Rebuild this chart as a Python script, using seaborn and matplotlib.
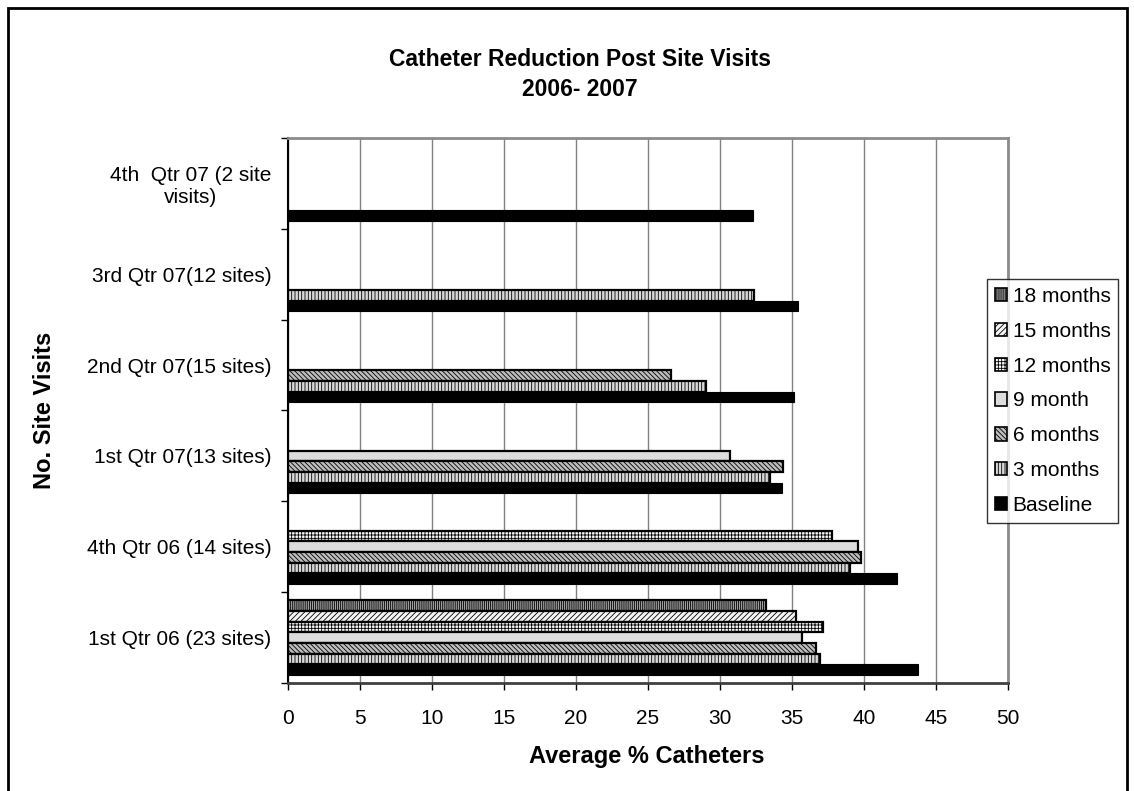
import numpy as np
import pandas as pd
import matplotlib
matplotlib.use("Agg")
import matplotlib.pyplot as plt
from matplotlib.patches import Patch, Rectangle
import seaborn as sns

# Site-visit cohorts, listed top to bottom as drawn
categories = [
    "4th  Qtr 07 (2 site\nvisits)",
    "3rd Qtr 07(12 sites)",
    "2nd Qtr 07(15 sites)",
    "1st Qtr 07(13 sites)",
    "4th Qtr 06 (14 sites)",
    "1st Qtr 06 (23 sites)",
]

# Series in legend order (top bar of each group first)
series = ["18 months", "15 months", "12 months", "9 month", "6 months", "3 months", "Baseline"]

# Average % catheters per cohort (None = not yet measured)
m18 = [None, None, None, None, None, 33.2]
m15 = [None, None, None, None, None, 35.25]
m12 = [None, None, None, None, 37.8, 37.15]
m9 = [None, None, None, 30.7, 39.6, 35.7]
m6 = [None, None, 26.6, 34.4, 39.8, 36.65]
m3 = [None, 32.35, 29.0, 33.5, 39.05, 36.95]
baseline = [32.3, 35.4, 35.15, 34.3, 42.3, 43.75]

values = [m18, m15, m12, m9, m6, m3, baseline]

rows = []
for name, vals in zip(series, values):
    for cat, v in zip(categories, vals):
        if v is not None:
            rows.append({"cohort": cat, "series": name, "pct": v})
df = pd.DataFrame(rows)

# Fill colour and hatch per series (grayscale print style)
styles = {
    "18 months": ("#a0a0a0", "||||||||"),
    "15 months": ("#f4f4f4", "//////"),
    "12 months": ("#fafafa", "+++++"),
    "9 month": ("#dcdcdc", ""),
    "6 months": ("#bdbdbd", "\\\\\\\\\\\\\\"),
    "3 months": ("#d8d8d8", "|||||"),
    "Baseline": ("#000000", ""),
}
# Slightly distinct keys so each container can be identified by colour
palette = {}
for i, s in enumerate(series):
    base = matplotlib.colors.to_rgb(styles[s][0])
    palette[s] = tuple(min(1.0, max(0.0, c + 0.0001 * i)) for c in base)

sns.set_theme(style="white")
plt.rcParams["font.family"] = ["Liberation Sans", "DejaVu Sans"]
plt.rcParams["hatch.linewidth"] = 0.6
for key in ("text.color", "axes.labelcolor", "xtick.color", "ytick.color"):
    plt.rcParams[key] = "black"

fig = plt.figure(figsize=(11.34, 7.91), dpi=100)
fig.patch.set_facecolor("white")
ax = fig.add_axes([288 / 1134, 1 - 683 / 791, 720 / 1134, (683 - 138) / 791])

sns.barplot(
    data=df, y="cohort", x="pct", hue="series",
    order=categories, hue_order=series, palette=palette,
    orient="h", width=0.82, errorbar=None, legend=False, ax=ax,
    saturation=1,
)

for cont in ax.containers:
    for bar in cont:
        fc = bar.get_facecolor()[:3]
        key = min(series, key=lambda s: sum((a - b) ** 2 for a, b in zip(palette[s], fc)))
        face, hatch = styles[key]
        bar.set_facecolor(face)
        bar.set_edgecolor("black")
        bar.set_linewidth(1.6 if key != "Baseline" else 0.8)
        bar.set_hatch(hatch)

ax.set_xlim(0, 50)
ax.set_ylim(5.5, -0.5)
ax.set_xticks(np.arange(0, 51, 5))
ax.tick_params(axis="x", direction="out", length=5, width=1, color="black",
               labelsize=15, pad=14, bottom=True)

ax.set_yticks(np.arange(-0.5, 6, 1))
ax.set_yticklabels([])
ax.set_yticks(np.arange(0, 6), minor=True)
ax.set_yticklabels(categories, minor=True, fontsize=15)
ax.tick_params(axis="y", which="major", direction="out", length=5, width=1,
               color="black", left=True)
ax.tick_params(axis="y", which="minor", length=0, pad=12)
for lab in ax.get_yticklabels(minor=True):
    lab.set_multialignment("center")
    lab.set_linespacing(1.15)

ax.xaxis.grid(True, color="#808080", linewidth=1)
ax.yaxis.grid(False)
ax.set_axisbelow(True)

for side in ("top", "right"):
    ax.spines[side].set_color("#8c8c8c")
    ax.spines[side].set_linewidth(2)
ax.spines["left"].set_color("black")
ax.spines["left"].set_linewidth(1.5)
ax.spines["bottom"].set_color("#404040")
ax.spines["bottom"].set_linewidth(2)

ax.set_xlabel("Average % Catheters", fontsize=17, fontweight="bold")
ax.xaxis.set_label_coords(647 / 1134, 1 - 757 / 791, transform=fig.transFigure)
ax.xaxis.label.set_va("center")
ax.set_ylabel("No. Site Visits", fontsize=17, fontweight="bold")
ax.yaxis.set_label_coords(45 / 1134, 1 - 410 / 791, transform=fig.transFigure)
ax.yaxis.label.set_va("center")

fig.text(580 / 1134, 1 - 59 / 791, "Catheter Reduction Post Site Visits",
         ha="center", va="center", fontsize=16.5, fontweight="bold")
fig.text(580 / 1134, 1 - 89 / 791, "2006- 2007",
         ha="center", va="center", fontsize=16.5, fontweight="bold")

handles = [
    Patch(facecolor=styles[s][0], edgecolor="black", hatch=styles[s][1],
          linewidth=1.2, label=s)
    for s in series
]
leg = fig.legend(
    handles=handles, loc="upper left",
    bbox_to_anchor=(987 / 1134, 1 - 279 / 791), bbox_transform=fig.transFigure,
    fontsize=15, frameon=True, fancybox=False, shadow=False,
    handlelength=0.6, handleheight=0.6, handletextpad=0.25,
    labelspacing=0.76, borderpad=0.38, borderaxespad=0,
)
leg.get_frame().set_edgecolor("black")
leg.get_frame().set_linewidth(1)

fig.patches.append(Rectangle((8 / 1134, -0.05), (1127 - 8) / 1134, 1.05 - 8 / 791,
                             transform=fig.transFigure, fill=False,
                             edgecolor="black", linewidth=2))

fig.savefig("out.png", dpi=100, facecolor="white")
